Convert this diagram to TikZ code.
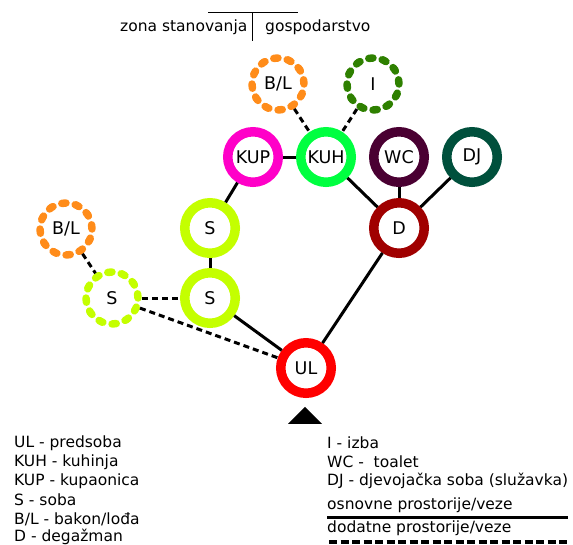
\documentclass[tikz,border=0pt]{standalone}
\usepackage{fontspec}
\setmainfont{DejaVu Sans}
\usetikzlibrary{shapes.geometric}
\definecolor{cUL}{HTML}{FF0000}
\definecolor{cS}{HTML}{C4FF00}
\definecolor{cKUP}{HTML}{FF00C8}
\definecolor{cKUH}{HTML}{00FF40}
\definecolor{cWC}{HTML}{4A0032}
\definecolor{cDJ}{HTML}{00503C}
\definecolor{cD}{HTML}{A00000}
\definecolor{cBL}{HTML}{FF8C1A}
\definecolor{cI}{HTML}{2E8000}
\tikzset{
  room/.style={circle, draw=#1, line width=9.5pt, minimum size=50.5pt, inner sep=0pt, font=\fontsize{17.5}{20}\selectfont},
  extra/.style={circle, draw=#1, line width=7.5pt, line cap=round, dash pattern=on 4.2pt off 9.4pt, minimum size=52pt, inner sep=0pt, font=\fontsize{17.5}{20}\selectfont},
  basic/.style={line width=3pt},
  addl/.style={line width=3pt, dash pattern=on 6pt off 4pt},
  legend/.style={anchor=west, inner sep=0pt, font=\fontsize{15.5}{18}\selectfont},
}
\begin{document}
\begin{tikzpicture}[x=1pt,y=-1pt]
\useasboundingbox (0,0) rectangle (573,544);
% header
\node[legend] (zs) at (120,27) {zona stanovanja};
\node[legend] (gs) at (265,27) {gospodarstvo};
\coordinate (h1) at (208,12);
\coordinate (h2) at (298,12);
\coordinate (v1) at (252,12);
\coordinate (v2) at (252,41);
\draw[line width=1pt] (h1) -- (h2);
\draw[line width=1pt] (v1) -- (v2);
% rooms
\node[room=cUL] (UL) at (306,368) {UL};
\node[room=cS] (S2) at (210,298) {S};
\node[room=cS] (S1) at (210,228) {S};
\node[extra=cS] (S3) at (112,298) {S};
\node[extra=cBL] (BL2) at (66,229) {B/L};
\node[room=cKUP] (KUP) at (253,157) {KUP};
\node[room=cKUH] (KUH) at (326,157) {KUH};
\node[room=cWC] (WC) at (399,157) {WC};
\node[room=cDJ] (DJ) at (472,157) {DJ};
\node[room=cD] (D) at (399,228) {D};
\node[extra=cBL] (BL1) at (278,84) {B/L};
\node[extra=cI] (I) at (373,84) {I};
% solid links
\draw[basic] (KUP) -- (KUH);
\draw[basic] (KUP) -- (S1);
\draw[basic] (S1) -- (S2);
\draw[basic] (S2) -- (UL);
\draw[basic] (KUH) -- (D);
\draw[basic] (WC) -- (D);
\draw[basic] (DJ) -- (D);
\draw[basic] (D) -- (UL);
% dashed links
\draw[addl] (BL1) -- (KUH);
\draw[addl] (I) -- (KUH);
\draw[addl] (BL2) -- (S3);
\draw[addl] (S3) -- (S2);
\draw[addl] (S3) -- (UL);
% entrance
\node[fill=black, isosceles triangle, isosceles triangle apex angle=90, shape border rotate=90, minimum width=34pt, minimum height=17pt, inner sep=0pt, anchor=south] (ent) at (305,424) {};
% legend left
\node[legend] (l1) at (14,443) {UL - predsoba};
\node[legend] (l2) at (14,462) {KUH - kuhinja};
\node[legend] (l3) at (14,481) {KUP - kupaonica};
\node[legend] (l4) at (14,500) {S - soba};
\node[legend] (l5) at (14,519) {B/L - bakon/lođa};
\node[legend] (l6) at (14,537) {D - degažman};
% legend right
\node[legend] (r1) at (327,443) {I - izba};
\node[legend] (r2) at (327,462) {WC -\ \ toalet};
\node[legend] (r3) at (327,481) {DJ - djevojačka soba (služavka)};
\node[legend] (r4) at (327,505) {osnovne prostorije/veze};
\node[legend] (r5) at (327,528) {dodatne prostorije/veze};
\coordinate (s1) at (327,517);
\coordinate (s2) at (568,517);
\coordinate (d1) at (329,542);
\coordinate (d2) at (568,542);
\draw[line width=3pt] (s1) -- (s2);
\draw[line width=4pt, dash pattern=on 8pt off 3.5pt] (d1) -- (d2);
\end{tikzpicture}
\end{document}
